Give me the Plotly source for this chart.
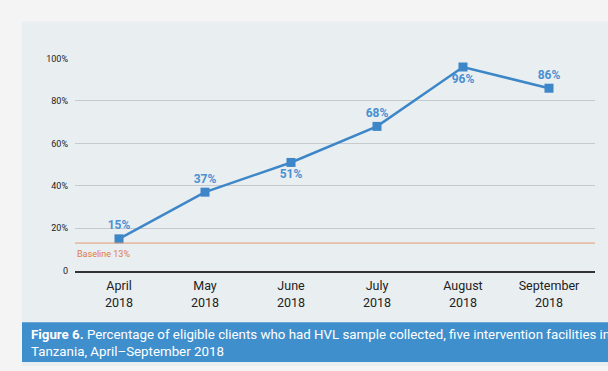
import plotly.graph_objects as go

months = ["April<br>2018", "May<br>2018", "June<br>2018", "July<br>2018", "August<br>2018", "September<br>2018"]
values = [15, 37, 51, 68, 96, 86]
labels = ["15%", "37%", "51%", "68%", "96%", "86%"]
label_pos = ["top center", "top center", "bottom center", "top center", "bottom center", "top center"]
baseline = 13
ytick_vals = [0, 20, 40, 60, 80, 100]
ytick_text = ["0", "20%", "40%", "60%", "80%", "100%"]

W, H = 608, 371
FONT = "Roboto, Arial, sans-serif"

fig = go.Figure()
fig.add_trace(go.Scatter(
    x=list(range(len(months))), y=values,
    mode="lines+markers+text",
    line=dict(color="#3D87C8", width=2.5),
    marker=dict(symbol="square", size=9, color="#3D87C8"),
    text=labels, textposition=label_pos,
    textfont=dict(family=FONT, size=12, color="#4A90D2", weight="bold"),
    cliponaxis=False, showlegend=False,
))

x0p, x1p = 75, 595
px_per = 86
xr = [(x0p - 119) / px_per, (x1p - 119) / px_per]

fig.update_layout(
    width=W, height=H,
    margin=dict(l=0, r=0, t=0, b=0),
    paper_bgcolor="#F4F4F4",
    plot_bgcolor="rgba(0,0,0,0)",
    xaxis=dict(
        domain=[x0p / W, x1p / W], range=xr,
        tickmode="array", tickvals=list(range(len(months))), ticktext=months,
        showgrid=False, zeroline=False, showline=True, linecolor="#333333", linewidth=1.5,
        ticks="", tickfont=dict(family=FONT, size=12.5, color="#222222"),
        ticklabelstandoff=3,
    ),
    yaxis=dict(
        domain=[(H - 273) / H, (H - 55) / H], range=[0, 100],
        tickmode="array", tickvals=ytick_vals, ticktext=ytick_text,
        showgrid=True, gridcolor="#C5CACE", gridwidth=1, zeroline=False,
        showline=False, ticks="", tickfont=dict(family=FONT, size=9, color="#222222"),
        ticklabelstandoff=6,
    ),
    shapes=[
        dict(type="rect", xref="paper", yref="paper", x0=22 / W, x1=1, y0=0, y1=(H - 17) / H,
             fillcolor="#E9EEF1", line=dict(width=0), layer="below"),
        dict(type="rect", xref="paper", yref="paper", x0=22 / W, x1=1, y0=(H - 367) / H, y1=(H - 326) / H,
             fillcolor="#3F8FCD", line=dict(width=0), layer="below"),
        dict(type="line", xref="x domain", yref="y", x0=0, x1=1, y0=baseline, y1=baseline,
             line=dict(color="#E59A72", width=1)),
    ],
    annotations=[
        dict(text="Baseline 13%", xref="x domain", yref="y", x=0, y=baseline - 2, xanchor="left", yanchor="top",
             showarrow=False, font=dict(family=FONT, size=9, color="#E07B45")),
        dict(text="<b>Figure 6.</b> Percentage of eligible clients who had HVL sample collected, five intervention facilities in<br>Tanzania, April\u2013September 2018",
             xref="paper", yref="paper", x=29 / W, y=(H - 347) / H, xanchor="left", yanchor="middle", align="left",
             showarrow=False, font=dict(family=FONT, size=13.3, color="#FFFFFF")),
    ],
)

fig.write_html("out.html")
